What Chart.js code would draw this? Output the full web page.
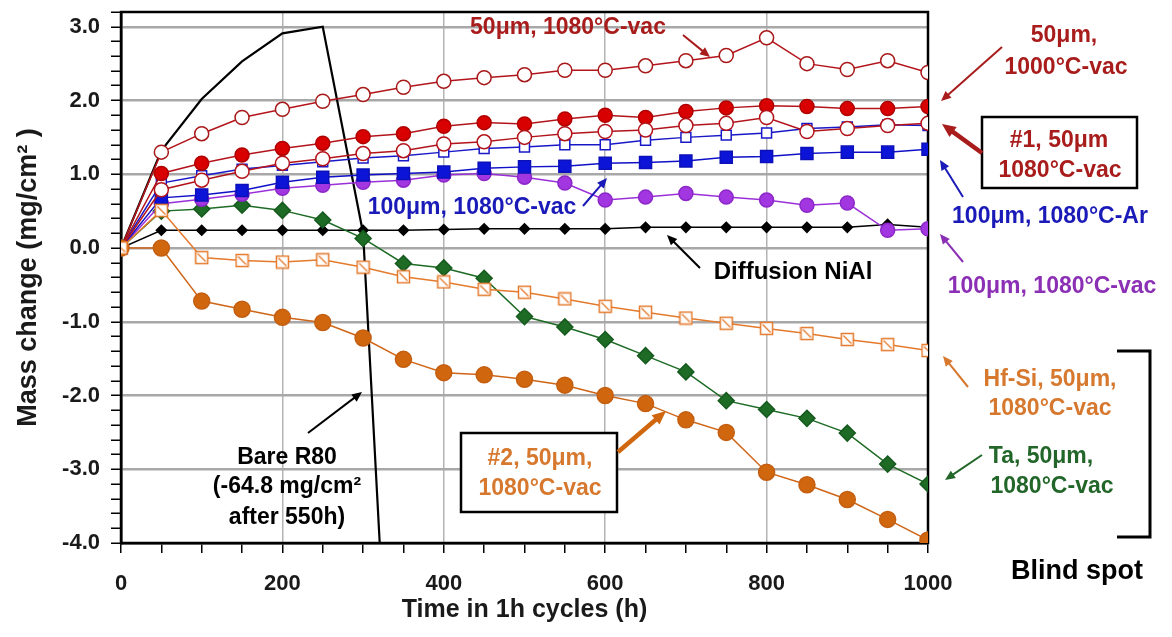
<!DOCTYPE html>
<html>
<head>
<meta charset="utf-8">
<script src="https://cdn.jsdelivr.net/npm/chart.js@4.4.1/dist/chart.umd.min.js"></script>
<style>
  html, body { margin: 0; padding: 0; background: #fff; }
</style>
</head>
<body>
<canvas id="massChart" width="1172" height="637"></canvas>
<script>
// time in 1h cycles
const hours = [0, 50, 100, 150, 200, 250, 300, 350, 400, 450, 500, 550, 600, 650, 700, 750, 800, 850, 900, 950, 1000];

const um50_1080vac = [0, 1.30, 1.55, 1.77, 1.88, 1.99, 2.08, 2.18, 2.26, 2.31, 2.35, 2.41, 2.41, 2.47, 2.54, 2.61, 2.85, 2.50, 2.42, 2.54, 2.38];
const um50_1000vac = [0, 1.01, 1.15, 1.26, 1.35, 1.42, 1.51, 1.55, 1.65, 1.70, 1.68, 1.75, 1.80, 1.77, 1.85, 1.90, 1.93, 1.92, 1.89, 1.89, 1.92];
const no1_um50_1080vac = [0, 0.79, 0.92, 1.04, 1.15, 1.21, 1.28, 1.32, 1.41, 1.44, 1.50, 1.55, 1.58, 1.60, 1.66, 1.69, 1.77, 1.58, 1.62, 1.66, 1.69];
const um100_1080vac = [0, 0.88, 0.98, 1.07, 1.12, 1.17, 1.22, 1.25, 1.30, 1.35, 1.37, 1.40, 1.40, 1.46, 1.50, 1.53, 1.56, 1.62, 1.64, 1.67, 1.66];
const um100_1080Ar = [0, 0.68, 0.72, 0.78, 0.89, 0.96, 0.99, 1.01, 1.03, 1.08, 1.10, 1.11, 1.15, 1.16, 1.18, 1.23, 1.24, 1.28, 1.30, 1.30, 1.34];
const um100_1080vacP = [0, 0.60, 0.66, 0.73, 0.81, 0.85, 0.89, 0.92, 0.99, 1.01, 0.96, 0.88, 0.65, 0.69, 0.74, 0.69, 0.65, 0.58, 0.61, 0.24, 0.26];
const ta_um50 = [0, 0.50, 0.53, 0.58, 0.51, 0.38, 0.13, -0.21, -0.27, -0.41, -0.93, -1.07, -1.24, -1.46, -1.68, -2.07, -2.19, -2.31, -2.51, -2.93, -3.20];
const hfsi_um50 = [0, 0.51, -0.13, -0.17, -0.19, -0.16, -0.26, -0.39, -0.46, -0.56, -0.60, -0.69, -0.79, -0.87, -0.95, -1.02, -1.09, -1.16, -1.24, -1.31, -1.39];
const no2_um50 = [0, 0.00, -0.72, -0.83, -0.94, -1.01, -1.22, -1.51, -1.69, -1.72, -1.78, -1.86, -2.00, -2.11, -2.33, -2.50, -3.04, -3.21, -3.41, -3.68, -3.96];
const diffNiAl = [0, 0.24, 0.24, 0.24, 0.24, 0.24, 0.24, 0.24, 0.25, 0.26, 0.26, 0.26, 0.26, 0.28, 0.28, 0.28, 0.28, 0.28, 0.28, 0.32, 0.28];

// bare R80 (goes off scale after 300h)
const bareHours = [0, 50, 100, 150, 200, 250, 300, 350];
const bareR80 = [0, 1.32, 2.02, 2.53, 2.91, 3.00, 0.20, -10.0];

const yTicks = [-4, -3, -2, -1, 0, 1, 2, 3];
const xTicks = [0, 200, 400, 600, 800, 1000];

const FONT = '"Liberation Sans", Arial, sans-serif';

function pts(xs, ys) {
    return xs.map((x, i) => ({ x: x, y: ys[i] }));
}

// open orange square with a slash for the Hf-Si series
function slashSquare(color) {
    const c = document.createElement('canvas');
    c.width = 15; c.height = 15;
    const g = c.getContext('2d');
    g.fillStyle = '#fff';
    g.fillRect(1.5, 1.5, 12, 12);
    g.strokeStyle = color;
    g.lineWidth = 1.5;
    g.strokeRect(1.5, 1.5, 12, 12);
    g.lineWidth = 1.2;
    g.beginPath();
    g.moveTo(3.5, 3.5);
    g.lineTo(11.5, 11.5);
    g.stroke();
    return c;
}

function series(data, line, style, radius, fill, border) {
    return {
        data: data,
        borderColor: line,
        borderWidth: 1.5,
        pointStyle: style,
        pointRadius: radius,
        pointBackgroundColor: fill,
        pointBorderColor: border,
        pointBorderWidth: 1.5,
        tension: 0
    };
}

const datasets = [
    series(pts(hours, hfsi_um50), '#e47a2c', slashSquare('#e47a2c'), 7, '#fff', '#e47a2c'),
    series(pts(hours, no2_um50), '#cf6516', 'circle', 8, '#d0670f', '#c45e10'),
    series(pts(hours, no1_um50_1080vac), '#b3141b', 'circle', 7, '#fff', '#b3141b'),
    series(pts(hours, um50_1000vac), '#b3141b', 'circle', 7, '#d80000', '#b00000'),
    series(pts(hours, um50_1080vac), '#b3141b', 'circle', 7, '#fff', '#a81818'),
    series(pts(hours, um100_1080vac), '#1818c8', 'rect', 7, '#fff', '#1818c8'),
    series(pts(hours, um100_1080Ar), '#1010c8', 'rect', 8.5, '#0c14d8', '#0c10b8'),
    series(pts(hours, um100_1080vacP), '#9b30d9', 'circle', 7, '#a236e0', '#8c28c8'),
    series(pts(hours, ta_um50), '#1d6b25', 'rectRot', 8, '#1d6b25', '#165a1e'),
    series(pts(hours, diffNiAl), '#000', 'rectRot', 5, '#000', '#000'),
    {
        data: pts(bareHours, bareR80),
        borderColor: '#000',
        borderWidth: 2.2,
        pointRadius: 0,
        tension: 0,
        clip: 0
    }
];

function arrow(ctx, x1, y1, x2, y2, color, w, head) {
    const a = Math.atan2(y2 - y1, x2 - x1);
    ctx.save();
    ctx.strokeStyle = color;
    ctx.fillStyle = color;
    ctx.lineWidth = w;
    ctx.beginPath();
    ctx.moveTo(x1, y1);
    ctx.lineTo(x2 - Math.cos(a) * head * 0.7, y2 - Math.sin(a) * head * 0.7);
    ctx.stroke();
    ctx.beginPath();
    ctx.moveTo(x2, y2);
    ctx.lineTo(x2 - head * Math.cos(a - 0.42), y2 - head * Math.sin(a - 0.42));
    ctx.lineTo(x2 - head * Math.cos(a + 0.42), y2 - head * Math.sin(a + 0.42));
    ctx.closePath();
    ctx.fill();
    ctx.restore();
}

function text(ctx, s, x, y, color, size) {
    ctx.fillStyle = color;
    ctx.font = 'bold ' + (size || 23) + 'px ' + FONT;
    ctx.textAlign = 'center';
    ctx.textBaseline = 'middle';
    ctx.fillText(s, x, y);
}

const frame = {
    id: 'frame',
    beforeDatasetsDraw(chart) {
        const a = chart.chartArea, ctx = chart.ctx;
        ctx.save();
        ctx.strokeStyle = '#000';
        ctx.lineWidth = 2.5;
        ctx.strokeRect(a.left, a.top, a.right - a.left, a.bottom - a.top);
        ctx.restore();
    }
};

const notes = {
    id: 'notes',
    afterDraw(chart) {
        const ctx = chart.ctx;
        ctx.save();
        const dred = '#a81c1c', blue = '#1a1ab8', purple = '#8b2fb5', orange = '#d7782f', green = '#22662a';

        text(ctx, '50μm, 1080°C-vac', 568, 28, dred);
        arrow(ctx, 683, 35, 710, 57, dred, 2, 11);

        text(ctx, '50μm,', 1064, 36, dred);
        text(ctx, '1000°C-vac', 1066, 68, dred);
        arrow(ctx, 1002, 47, 941, 101, dred, 2, 11);

        ctx.lineWidth = 2.5;
        ctx.strokeStyle = '#000';
        ctx.strokeRect(982, 117, 155, 71);
        text(ctx, '#1, 50μm', 1059, 141, dred);
        text(ctx, '1080°C-vac', 1060, 171, dred);
        arrow(ctx, 982, 153, 942, 124, dred, 4.5, 15);

        text(ctx, '100μm, 1080°C-Ar', 1050, 217, blue);
        arrow(ctx, 963, 197, 940, 160, blue, 2, 11);

        text(ctx, '100μm, 1080°C-vac', 1052, 287, purple);
        arrow(ctx, 963, 262, 940, 234, purple, 2, 11);

        text(ctx, 'Hf-Si, 50μm,', 1050, 380, orange);
        text(ctx, '1080°C-vac', 1050, 409, orange);
        arrow(ctx, 968, 387, 943, 356, orange, 2, 11);

        text(ctx, 'Ta, 50μm,', 1041, 457, green);
        text(ctx, '1080°C-vac', 1052, 487, green);
        arrow(ctx, 982, 455, 945, 480, green, 2, 11);

        ctx.strokeStyle = '#000';
        ctx.lineWidth = 3;
        ctx.beginPath();
        ctx.moveTo(1117, 351);
        ctx.lineTo(1150, 351);
        ctx.lineTo(1150, 537);
        ctx.lineTo(1117, 537);
        ctx.stroke();
        text(ctx, 'Blind spot', 1077, 572, '#000', 27);

        text(ctx, 'Diffusion NiAl', 793, 272, '#000', 24);
        arrow(ctx, 700, 268, 667, 235, '#000', 2, 11);

        text(ctx, '100μm, 1080°C-vac', 472, 208, blue);
        arrow(ctx, 583, 206, 607, 178, blue, 2, 11);

        text(ctx, 'Bare R80', 287, 458, '#000');
        text(ctx, '(-64.8 mg/cm²', 287, 487, '#000');
        text(ctx, 'after 550h)', 287, 518, '#000');
        arrow(ctx, 308, 433, 362, 392, '#000', 2, 11);

        ctx.fillStyle = '#fff';
        ctx.fillRect(461, 433, 156, 79);
        ctx.strokeStyle = '#000';
        ctx.lineWidth = 2.5;
        ctx.strokeRect(461, 433, 156, 79);
        text(ctx, '#2, 50μm,', 540, 459, orange);
        text(ctx, '1080°C-vac', 540, 489, orange);
        arrow(ctx, 618, 452, 666, 411, '#d0670f', 4.5, 15);

        ctx.restore();
    }
};

const isInt = v => Math.abs(v - Math.round(v)) < 1e-6;

new Chart(document.getElementById('massChart'), {
    type: 'line',
    data: { datasets: datasets },
    options: {
        responsive: false,
        animation: false,
        layout: { padding: { top: 12, right: 244, left: 0, bottom: 0 } },
        plugins: {
            legend: { display: false },
            tooltip: { enabled: false }
        },
        scales: {
            x: {
                type: 'linear',
                min: 0,
                max: 1000,
                afterFit: s => { s.height = 94; },
                ticks: {
                    stepSize: 50,
                    autoSkip: false,
                    maxRotation: 0,
                    padding: 18,
                    color: '#1a1a1a',
                    font: { family: FONT, size: 22, weight: 'bold' },
                    callback: v => xTicks.includes(v) ? String(v) : ''
                },
                grid: {
                    color: c => (c.tick && xTicks.includes(c.tick.value) && c.tick.value > 0 && c.tick.value < 1000) ? '#b4b4b4' : 'transparent',
                    lineWidth: 1.5,
                    tickColor: '#000',
                    tickLength: 10,
                    tickWidth: 1.5
                },
                border: { color: '#000', width: 2.5 },
                title: {
                    display: true,
                    text: 'Time in 1h cycles (h)',
                    color: '#1a1a1a',
                    font: { family: FONT, size: 25, weight: 'bold' },
                    padding: { top: 0, bottom: 12 }
                }
            },
            y: {
                min: -4,
                max: 3.2,
                afterFit: s => { s.width = 121; s.paddingTop = 0; s.paddingBottom = 0; },
                ticks: {
                    stepSize: 0.2,
                    autoSkip: false,
                    padding: 11,
                    color: '#1a1a1a',
                    font: { family: FONT, size: 22, weight: 'bold' },
                    callback: v => (isInt(v) && yTicks.includes(Math.round(v))) ? Math.round(v).toFixed(1) : ''
                },
                grid: {
                    color: c => (c.tick && isInt(c.tick.value) && c.tick.value > -4) ? '#a8a8a8' : 'transparent',
                    lineWidth: 2.5,
                    tickColor: '#000',
                    tickLength: 10,
                    tickWidth: 1.5
                },
                border: { color: '#000', width: 2.5 },
                title: {
                    display: true,
                    text: 'Mass change (mg/cm² )',
                    color: '#1a1a1a',
                    font: { family: FONT, size: 27, weight: 'bold' },
                    padding: { top: 12, bottom: 0 }
                }
            }
        }
    },
    plugins: [frame, notes]
});
</script>
</body>
</html>
